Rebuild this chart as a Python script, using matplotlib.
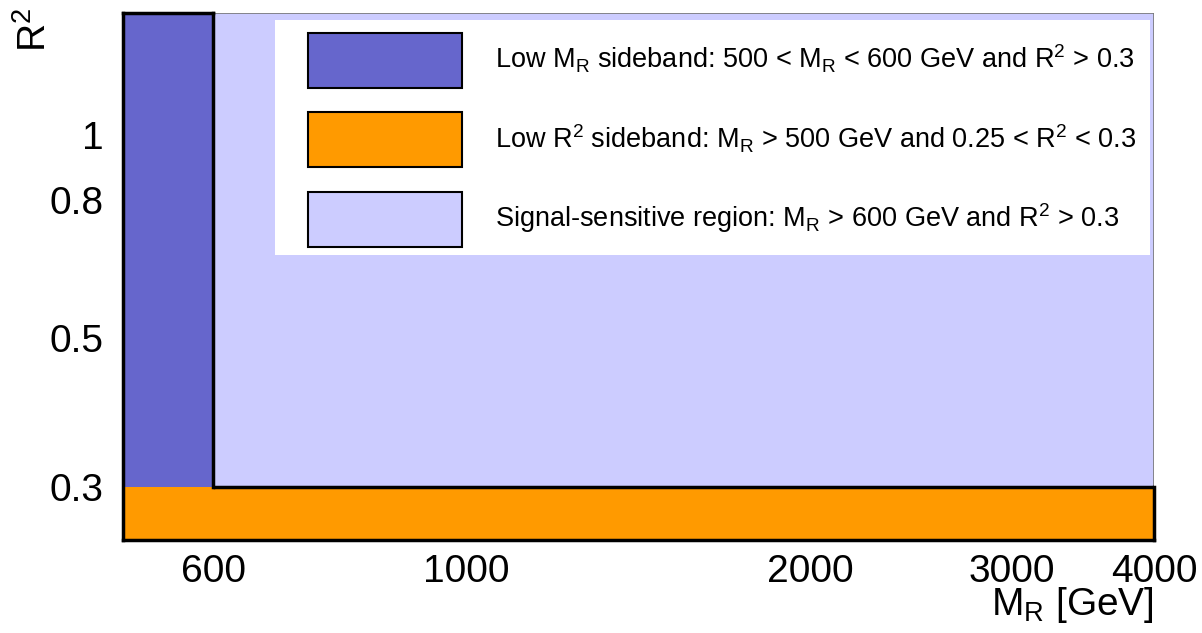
import matplotlib
matplotlib.use("Agg")
import matplotlib.pyplot as plt
from matplotlib.patches import Rectangle, Patch

plt.rcParams['font.family'] = ['Liberation Sans', 'DejaVu Sans']
plt.rcParams['mathtext.fontset'] = 'custom'
plt.rcParams['mathtext.rm'] = 'Liberation Sans'
plt.rcParams['mathtext.it'] = 'Liberation Sans'

# Region boundaries (data)
mr_min, mr_cut, mr_max = 500, 600, 4000
r2_min, r2_cut, r2_max = 0.25, 0.3, 1.52

x_ticks = [600, 1000, 2000, 3000, 4000]
y_ticks = [0.3, 0.5, 0.8, 1]
y_tick_labels = ["0.3", "0.5", "0.8", "1"]

region_labels = [
    r"Low M$_\mathregular{R}$ sideband: 500 < M$_\mathregular{R}$ < 600 GeV and R$^\mathregular{2}$ > 0.3",
    r"Low R$^\mathregular{2}$ sideband: M$_\mathregular{R}$ > 500 GeV and 0.25 < R$^\mathregular{2}$ < 0.3",
    r"Signal-sensitive region: M$_\mathregular{R}$ > 600 GeV and R$^\mathregular{2}$ > 0.3",
]
c_lowmr = "#6666CC"
c_lowr2 = "#FF9A00"
c_signal = "#CCCCFF"

fig = plt.figure(figsize=(12.02, 6.33), dpi=100)
ax = fig.add_axes([123/1202, 1-540/633, (1154-123)/1202, (540-13)/633])
ax.set_xscale('log')
ax.set_yscale('log')
ax.set_xlim(mr_min, mr_max)
ax.set_ylim(r2_min, r2_max)

# signal region
ax.add_patch(Rectangle((mr_cut, r2_cut), mr_max-mr_cut, r2_max-r2_cut,
                       facecolor=c_signal, edgecolor='#777777', lw=1.2, zorder=1))
# low R2 sideband
ax.add_patch(Rectangle((mr_min, r2_min), mr_max-mr_min, r2_cut-r2_min,
                       facecolor=c_lowr2, edgecolor='none', zorder=1))
# low MR sideband
ax.add_patch(Rectangle((mr_min, r2_cut), mr_cut-mr_min, r2_max-r2_cut,
                       facecolor=c_lowmr, edgecolor='none', zorder=2))
# black boundaries
ax.plot([mr_min, mr_cut], [r2_max, r2_max], color='black', lw=2.5, zorder=3, clip_on=False)
ax.plot([mr_cut, mr_max], [r2_cut, r2_cut], color='black', lw=2.5, zorder=3, solid_capstyle='butt')
ax.plot([mr_cut, mr_cut], [r2_cut, r2_max], color='black', lw=2.5, zorder=3, clip_on=False)
ax.plot([mr_max, mr_max], [r2_min, r2_cut], color='black', lw=2.5, zorder=3, clip_on=False)

for s in ['top', 'right']:
    ax.spines[s].set_visible(False)
for s in ['left', 'bottom']:
    ax.spines[s].set_linewidth(2.5)
    ax.spines[s].set_zorder(4)

ax.set_xticks(x_ticks)
ax.set_xticklabels([str(v) for v in x_ticks])
ax.set_yticks(y_ticks)
ax.set_yticklabels(y_tick_labels)
ax.minorticks_off()
ax.tick_params(axis='both', length=0, labelsize=28)
ax.tick_params(axis='x', pad=10)
ax.tick_params(axis='y', pad=14)

fig.text(1154/1202, 1-605/633, r"M$_\mathregular{R}$ [GeV]", fontsize=28, ha='right', va='center')
fig.text(35/1202, 1-30/633, r"R$^\mathregular{2}$", fontsize=28, ha='center', va='center', rotation=90)

# legend background box
fig.patches.append(Rectangle((275/1202, 1-255/633), (1150-275)/1202, (255-20)/633,
                             transform=fig.transFigure, facecolor='white',
                             edgecolor='none', zorder=5))

handles = [Patch(facecolor=c_lowmr, edgecolor='black', lw=1.5),
           Patch(facecolor=c_lowr2, edgecolor='black', lw=1.5),
           Patch(facecolor=c_signal, edgecolor='black', lw=1.5)]
leg = fig.legend(handles, region_labels, loc='upper left',
                 bbox_to_anchor=(295/1202, 1-20/633), bbox_transform=fig.transFigure,
                 fontsize=19.5, frameon=False,
                 handlelength=5.7, handleheight=2.75, labelspacing=0.9,
                 handletextpad=1.2, borderpad=0.48, borderaxespad=0)
leg.set_zorder(6)

fig.savefig("out.png", dpi=100)
